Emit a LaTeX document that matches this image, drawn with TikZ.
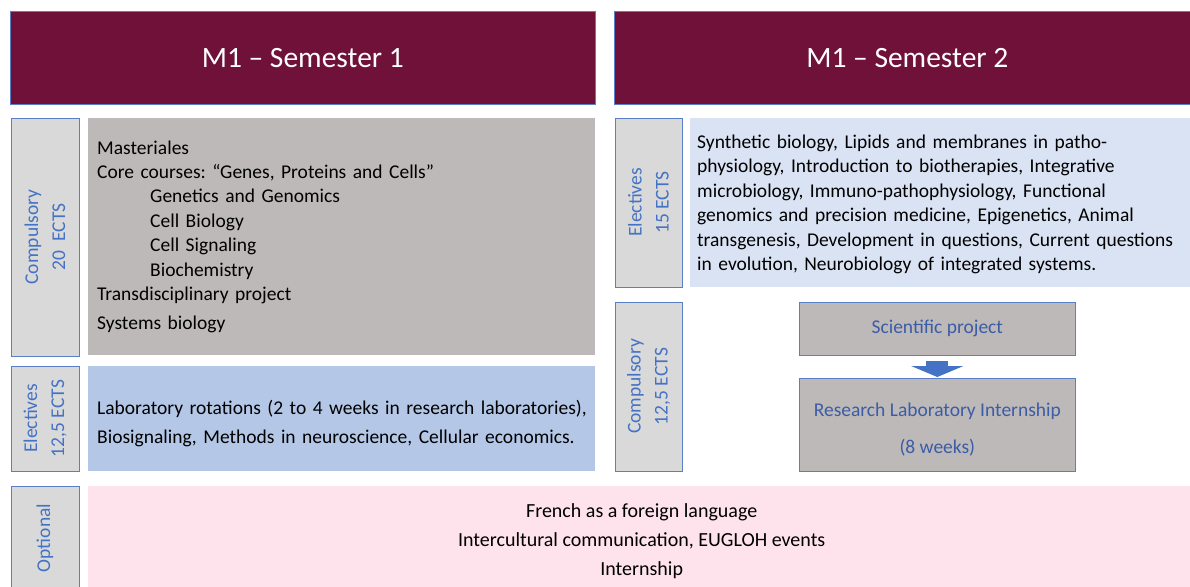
\documentclass[tikz,border=0pt]{standalone}
\usepackage{fontspec}
\setmainfont{Carlito}
\usetikzlibrary{arrows.meta}
\frenchspacing

\definecolor{maroon}{HTML}{70113A}
\definecolor{labelgray}{HTML}{D9D9D9}
\definecolor{edgeblue}{HTML}{5B7FC4}
\definecolor{labelblue}{HTML}{4472C4}
\definecolor{coregray}{HTML}{BDB9B8}
\definecolor{elecblue}{HTML}{B4C7E7}
\definecolor{paleblue}{HTML}{DAE3F3}
\definecolor{palepink}{HTML}{FEE3EC}
\definecolor{projblue}{HTML}{3B5CA6}

\begin{document}
\begin{tikzpicture}[x=1pt,y=-1pt,
  head/.style={fill=maroon, draw=edgeblue, line width=0.6pt, text=white,
    anchor=north west, inner sep=0pt, font=\fontsize{29.5}{34}\selectfont},
  side/.style={fill=labelgray, draw=edgeblue, line width=0.6pt, text=labelblue,
    rotate=90, align=center, inner sep=0pt, font=\fontsize{19.5}{27}\selectfont},
  course/.style={anchor=north west, align=left, inner ysep=0pt,
    font=\fontsize{19.5}{24.4}\selectfont},
  project/.style={fill=coregray, draw=edgeblue, line width=0.6pt, text=projblue,
    anchor=north west, align=center, inner sep=0pt, minimum width=276,
    font=\fontsize{19.5}{37}\selectfont},
  downarrow/.style={labelblue, line width=22pt,
    -{Triangle[width=52pt,length=11pt]}}]

\useasboundingbox (0,0) rectangle (1190,586);

% headers
\node[head, minimum width=585, minimum height=93] (sem1) at (10,11) {M1 – Semester 1};
\node[head, minimum width=586, minimum height=93] (sem2) at (614,11) {M1 – Semester 2};

% semester 1
\node[side, minimum width=238, minimum height=68] (comp1) at (45,237)
  {Compulsory\\20\enspace ECTS};
\node[course, fill=coregray, inner xsep=9pt, text width=489pt, minimum height=237]
  (core) at (88,118)
  {Masteriales\\
   Core courses: “Genes, Proteins and Cells”\\
   \hspace*{53pt}Genetics and Genomics\\
   \hspace*{53pt}Cell Biology\\
   \hspace*{53pt}Cell Signaling\\
   \hspace*{53pt}Biochemistry\\
   Transdisciplinary project\\[4.5pt]
   Systems biology};

\node[side, minimum width=105, minimum height=68] (elec1) at (45,418.5)
  {Electives\\12,5 ECTS};
\node[course, fill=elecblue, inner xsep=9pt, text width=489pt, minimum height=105,
  font=\fontsize{19.5}{29}\selectfont] (rot) at (88,366)
  {\rule{0pt}{23pt}\mbox{Laboratory rotations (2 to 4 weeks in research laboratories),}\\
   \mbox{Biosignaling, Methods in neuroscience, Cellular economics.}};

% semester 2
\node[side, minimum width=169, minimum height=67] (elec2) at (648.5,202.5)
  {Electives\\15 ECTS};
\node[course, fill=paleblue, inner xsep=7pt, text width=496pt, minimum height=169]
  (opts) at (690,118)
  {\rule{0pt}{17pt}Synthetic biology, Lipids and membranes in patho-\\
   physiology, Introduction to biotherapies, Integrative\\
   microbiology, Immuno-pathophysiology, Functional\\
   genomics and precision medicine, Epigenetics, Animal\\
   transgenesis, Development in questions, Current questions\\
   in evolution, Neurobiology of integrated systems.};

\node[side, minimum width=169, minimum height=67] (comp2) at (648.5,386.5)
  {Compulsory\\12,5 ECTS};
\node[project, minimum height=53] (sci) at (799,302) {Scientific project};
\node[project, minimum height=93] (intern) at (799,378)
  {\rule{0pt}{24pt}Research Laboratory Internship\\(8 weeks)};
\draw[downarrow, shorten <=5pt, shorten >=1pt] (sci) -- (intern);

% optional
\node[side, minimum width=104, minimum height=68] (opt) at (45,538) {Optional};
\node[fill=palepink, anchor=north west, align=center, inner sep=0pt,
  minimum width=1107, minimum height=104, font=\fontsize{20}{29}\selectfont]
  (extra) at (88,486)
  {\rule{0pt}{19pt}French as a foreign language\\
   Intercultural communication, EUGLOH events\\
   Internship};

\end{tikzpicture}
\end{document}
